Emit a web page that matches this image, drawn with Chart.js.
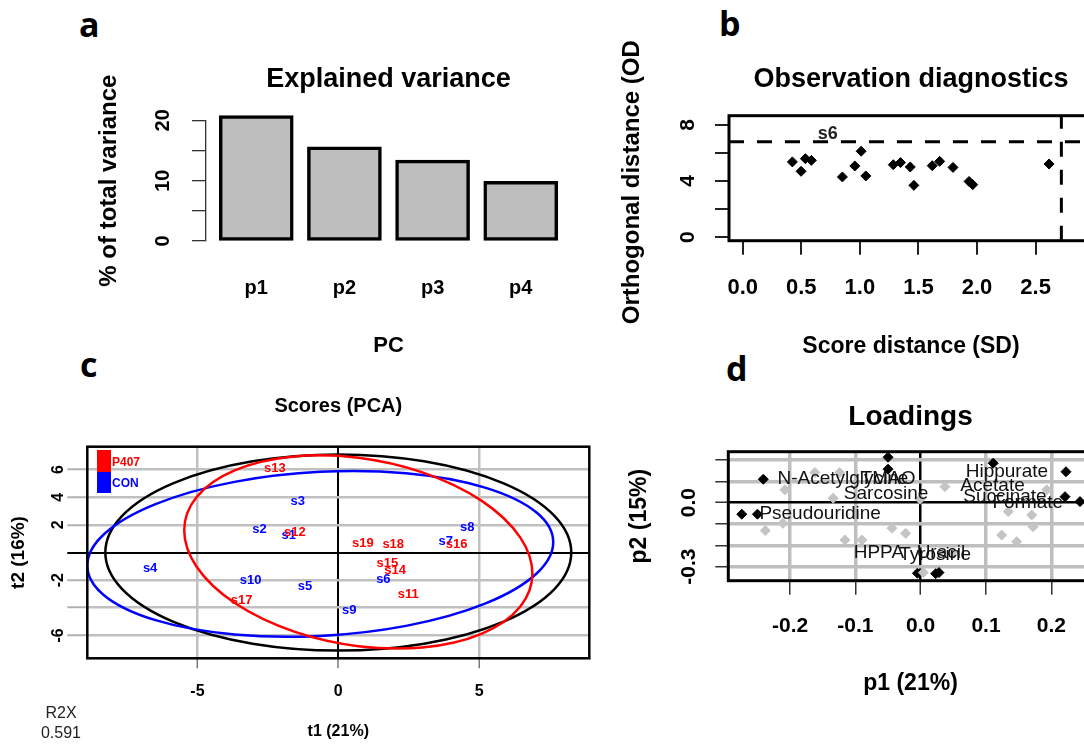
<!DOCTYPE html>
<html>
<head>
<meta charset="utf-8">
<title>PCA summary</title>
<script src="https://cdn.jsdelivr.net/npm/chart.js@4.4.1/dist/chart.umd.min.js"></script>
<style>
  html, body { margin: 0; padding: 0; background: #fff; }
  body { position: relative; width: 1084px; height: 744px; overflow: hidden; font-family: 'Liberation Sans', Arial, sans-serif; }
  canvas { position: absolute; }
  .letter { position: absolute; font-family: 'Open Sans', sans-serif; font-weight: 700; font-size: 34px; line-height: 34px; color: #000; }
  .key { position: absolute; width: 14px; }
  .keytxt { position: absolute; font-size: 12px; line-height: 12px; font-weight: bold; }
  .r2x { position: absolute; width: 60px; text-align: center; font-size: 16px; line-height: 16px; color: #222; }
</style>
</head>
<body>
<div class="letter" style="left:79px;top:7px">a</div>
<div class="letter" style="left:719px;top:6px">b</div>
<div class="letter" style="left:80px;top:347px">c</div>
<div class="letter" style="left:726px;top:351px">d</div>

<canvas id="pa" width="545" height="330" style="left:40px;top:40px"></canvas>
<canvas id="pb" width="530" height="330" style="left:590px;top:40px"></canvas>
<canvas id="pc" width="610" height="364" style="left:0px;top:380px"></canvas>
<canvas id="pd" width="530" height="364" style="left:590px;top:380px"></canvas>

<div class="key" style="left:97px;top:450px;height:22px;background:#ff0000"></div>
<div class="key" style="left:97px;top:472px;height:21px;background:#0000ff"></div>
<div class="keytxt" style="left:112px;top:456px;color:#ff0000">P407</div>
<div class="keytxt" style="left:112px;top:477px;color:#0000ff">CON</div>
<div class="r2x" style="left:31px;top:705px">R2X</div>
<div class="r2x" style="left:31px;top:725px">0.591</div>

<script>
'use strict';

Chart.defaults.font.family = "'Liberation Sans', Arial, sans-serif";
Chart.defaults.color = '#000';

// a: explained variance
const pcLabels = ['p1', 'p2', 'p3', 'p4'];
const explainedVar = [20.8, 15.6, 13.4, 9.9];
const varTicks = [0, 5, 10, 15, 20];

// b: observation diagnostics
const sdValues = [0.424, 0.498, 0.535, 0.586, 0.851, 0.957, 1.011, 1.051, 1.285, 1.347, 1.430, 1.461, 1.618, 1.681, 1.795, 1.932, 1.963, 2.615];
const odValues = [5.36, 4.69, 5.59, 5.47, 4.29, 5.07, 6.12, 4.36, 5.16, 5.31, 5.00, 3.69, 5.09, 5.40, 4.97, 3.97, 3.74, 5.21];
const outlierNames = ['s6'];
const outlierSd = [0.726];
const outlierOd = [7.35];
const sdCutoff = 2.72;
const odCutoff = 6.79;
const sdTicks = [0, 0.5, 1, 1.5, 2, 2.5];
const odTicks = [0, 2, 4, 6, 8];

// c: scores
const conNames = ['s1', 's2', 's3', 's4', 's5', 's6', 's7', 's8', 's9', 's10'];
const conT1 = [-1.76, -2.80, -1.44, -6.68, -1.18, 1.60, 3.81, 4.58, 0.39, -3.11];
const conT2 = [1.22, 1.66, 3.71, -1.17, -2.45, -1.94, 0.79, 1.80, -4.19, -2.01];
const p407Names = ['s11', 's12', 's13', 's14', 's15', 's16', 's17', 's18', 's19'];
const p407T1 = [2.48, -1.54, -2.25, 2.02, 1.74, 4.20, -3.43, 1.95, 0.87];
const p407T2 = [-3.05, 1.44, 6.08, -1.29, -0.80, 0.57, -3.46, 0.59, 0.67];
// ellipses: t1 = cx + a*cos(u), t2 = cy + c*cos(u) + d*sin(u); order: all, CON, P407
const ellCx = [0.00, -0.64, 0.71];
const ellCy = [0.00, -0.10, 0.04];
const ellA = [8.27, 8.27, 6.18];
const ellC = [0.00, 0.845, -1.565];
const ellD = [7.10, 5.94, 6.82];
const t1Ticks = [-5, 0, 5];
const t2Ticks = [-6, -4, -2, 0, 2, 4, 6];

// d: loadings
const blackP1 = [-0.050, -0.050, -0.241, -0.274, -0.250, 0.111, 0.2225, 0.221, 0.244, -0.005, 0.023, 0.028];
const blackP2 = [0.213, 0.157, 0.110, -0.054, -0.054, 0.185, 0.145, 0.028, 0.005, -0.331, -0.333, -0.328];
const grayP1 = [-0.162, -0.124, -0.208, -0.134, -0.211, -0.238, -0.116, -0.090, -0.044, -0.023, -0.001, 0.004, 0.037, 0.051, 0.124, 0.134, 0.147, 0.170, 0.172, 0.193];
const grayP2 = [0.141, 0.141, 0.060, 0.021, -0.097, -0.131, -0.175, -0.175, -0.120, -0.144, 0.016, -0.328, 0.075, -0.237, -0.152, -0.042, -0.183, -0.058, -0.113, 0.060];
const loadNames = ['N-Acetylglycine', 'TMAO', 'Sarcosine', 'Pseudouridine', 'Hippurate', 'Acetate', 'Succinate', 'Formate', 'HPPA', 'Tyrosine', 'Uracil'];
const loadLabelP1 = [-0.119, -0.050, -0.053, -0.154, 0.132, 0.110, 0.129, 0.164, -0.064, 0.022, 0.031];
const loadLabelP2 = [0.110, 0.110, 0.044, -0.054, 0.145, 0.078, 0.028, 0.000, -0.237, -0.245, -0.236];
const p1Ticks = [-0.2, -0.1, 0, 0.1, 0.2];
const p2Ticks = [-0.3, -0.2, -0.1, 0, 0.1, 0.2];

// helpers
const xy = (xs, ys) => xs.map((x, i) => ({ x, y: ys[i] }));
const fixTicks = arr => scale => { scale.ticks = arr.map(v => ({ value: v })); };
const fixWidth = w => scale => { scale.width = w; };
const fixHeight = h => scale => { scale.height = h; };
const bold = size => ({ size, weight: 'bold' });
const zeroOr = (zero, other) => c => (c.tick && c.tick.value === 0 ? zero : other);

const frame = w => ({
    id: 'frame',
    afterDatasetsDraw(chart) {
        const { left, top, width, height } = chart.chartArea;
        const ctx = chart.ctx;
        ctx.save();
        ctx.lineWidth = w;
        ctx.strokeStyle = '#000';
        ctx.strokeRect(left, top, width, height);
        ctx.restore();
    }
});

// draws the text of datasets that carry pointLabels at their points
const pointText = {
    id: 'pointText',
    afterDatasetsDraw(chart) {
        const ctx = chart.ctx;
        chart.data.datasets.forEach((ds, i) => {
            if (!ds.pointLabels) return;
            const meta = chart.getDatasetMeta(i);
            ctx.save();
            ctx.font = ds.labelFont;
            ctx.fillStyle = ds.labelColor;
            ctx.textAlign = 'center';
            ctx.textBaseline = 'middle';
            meta.data.forEach((pt, j) => ctx.fillText(ds.pointLabels[j], pt.x, pt.y));
            ctx.restore();
        });
    }
};

const ellColors = ['#000000', '#0000ff', '#ff0000'];
const ellipses = {
    id: 'ellipses',
    beforeDatasetsDraw(chart) {
        const xs = chart.scales.x, ys = chart.scales.y, ctx = chart.ctx, a = chart.chartArea;
        const kx = xs.getPixelForValue(1) - xs.getPixelForValue(0);
        const ky = ys.getPixelForValue(1) - ys.getPixelForValue(0);
        ctx.save();
        ctx.beginPath();
        ctx.rect(a.left, a.top, a.width, a.height);
        ctx.clip();
        ellCx.forEach((cx, i) => {
            ctx.save();
            ctx.beginPath();
            ctx.transform(kx * ellA[i], ky * ellC[i], 0, ky * ellD[i], xs.getPixelForValue(cx), ys.getPixelForValue(ellCy[i]));
            ctx.arc(0, 0, 1, 0, Math.PI * 2);
            ctx.restore();
            ctx.lineWidth = 2.5;
            ctx.strokeStyle = ellColors[i];
            ctx.stroke();
        });
        ctx.restore();
    }
};

const base = {
    responsive: false,
    animation: false,
    events: [],
};
const noLegend = { legend: { display: false }, tooltip: { enabled: false } };
// the title sits over the plot region only, as in R
const titleOf = (text, size, top, bottom) => ({ display: true, fullSize: false, text, font: bold(size), padding: { top, bottom } });

// ---- a ----
const barX = pcLabels.map((p, i) => 0.7 + 1.2 * i);
new Chart(document.getElementById('pa'), {
    type: 'bar',
    data: {
        datasets: [{
            data: xy(barX, explainedVar),
            backgroundColor: '#bebebe',
            borderColor: '#000',
            borderWidth: 3.5,
            borderSkipped: false,
            barThickness: 74,
            clip: false,
        }]
    },
    options: {
        ...base,
        layout: { padding: { right: 14 } },
        plugins: { ...noLegend, title: titleOf('Explained variance', 27, 23.8, 24.1) },
        scales: {
            x: {
                type: 'linear', min: 0.016, max: 4.984, offset: false,
                afterBuildTicks: fixTicks(barX), afterFit: fixHeight(129),
                grid: { display: false, drawTicks: false, offset: false },
                border: { display: false },
                ticks: { callback: (v, i) => pcLabels[i], font: bold(20), padding: 35, autoSkip: false, maxRotation: 0 },
                title: { display: true, text: 'PC', font: bold(22), padding: { top: 0, bottom: 11.1 } },
            },
            y: {
                min: 0, max: 20,
                afterBuildTicks: fixTicks(varTicks), afterFit: fixWidth(166),
                grid: { drawOnChartArea: false, tickLength: 14, color: '#333', lineWidth: 1.3 },
                border: { display: true, color: '#333', width: 1.3 },
                ticks: { callback: v => (v % 10 === 0 ? String(v) : ''), font: bold(20), padding: 16.9, minRotation: 90, maxRotation: 90, crossAlign: 'center', autoSkip: false },
                title: { display: true, text: '% of total variance', font: bold(24), padding: { top: 54.6, bottom: 0 } },
            }
        }
    }
});

// ---- b ----
const sdMin = -0.117, sdMax = 2.99, odMin = -0.25, odMax = 8.65;
new Chart(document.getElementById('pb'), {
    type: 'scatter',
    data: {
        datasets: [
            { data: xy(sdValues, odValues), pointStyle: 'rectRot', pointRadius: 5, backgroundColor: '#000', borderColor: '#000', borderWidth: 1 },
            { data: xy(outlierSd, outlierOd), pointRadius: 0, pointLabels: outlierNames, labelFont: "bold 18px 'Liberation Sans'", labelColor: '#222' },
            { data: [{ x: sdMin, y: odCutoff }, { x: sdMax, y: odCutoff }], showLine: true, pointRadius: 0, borderColor: '#000', borderWidth: 3, borderDash: [15, 13] },
            { data: [{ x: sdCutoff, y: odMin }, { x: sdCutoff, y: odMax }], showLine: true, pointRadius: 0, borderColor: '#000', borderWidth: 3, borderDash: [15, 13] },
        ]
    },
    options: {
        ...base,
        layout: { padding: { right: 27 } },
        plugins: { ...noLegend, title: titleOf('Observation diagnostics', 27, 23.6, 19.7) },
        scales: {
            x: {
                type: 'linear', min: sdMin, max: sdMax,
                afterBuildTicks: fixTicks(sdTicks), afterFit: fixHeight(129.3),
                grid: { drawOnChartArea: false, tickLength: 14, color: '#222', lineWidth: 2 },
                border: { display: false },
                ticks: { callback: v => v.toFixed(1), font: bold(22), padding: 20.4, autoSkip: false, maxRotation: 0 },
                title: { display: true, text: 'Score distance (SD)', font: bold(23), padding: { top: 0, bottom: 9.2 } },
            },
            y: {
                min: odMin, max: odMax,
                afterBuildTicks: fixTicks(odTicks), afterFit: fixWidth(139),
                grid: { drawOnChartArea: false, tickLength: 14, color: '#222', lineWidth: 2 },
                border: { display: false },
                ticks: { callback: v => (v % 4 === 0 ? String(v) : ''), font: bold(21), padding: 21.2, minRotation: 90, maxRotation: 90, crossAlign: 'center', autoSkip: false },
                title: { display: true, text: 'Orthogonal distance (OD)', font: bold(24), padding: { top: 27.6, bottom: 0 } },
            }
        }
    },
    plugins: [frame(3), pointText]
});

// ---- c ----
new Chart(document.getElementById('pc'), {
    type: 'scatter',
    data: {
        datasets: [
            { data: xy(conT1, conT2), pointRadius: 0, pointLabels: conNames, labelFont: "bold 13px 'Liberation Sans'", labelColor: '#0000ff' },
            { data: xy(p407T1, p407T2), pointRadius: 0, pointLabels: p407Names, labelFont: "bold 13px 'Liberation Sans'", labelColor: '#ff0000' },
        ]
    },
    options: {
        ...base,
        layout: { padding: { right: 20.7 } },
        plugins: { ...noLegend, title: titleOf('Scores (PCA)', 20, 14, 28.7) },
        scales: {
            x: {
                type: 'linear', min: -8.91, max: 8.91,
                afterBuildTicks: fixTicks(t1Ticks), afterFit: fixHeight(85.7),
                grid: { color: zeroOr('#000', '#c0c0c0'), lineWidth: zeroOr(2, 2.5), tickLength: 10, tickColor: '#666', tickWidth: 1.3 },
                border: { display: false },
                ticks: { callback: v => String(v), font: bold(16), padding: 13.3, autoSkip: false, maxRotation: 0 },
                title: { display: true, text: 't1 (21%)', font: bold(16), padding: { top: 0, bottom: 2.4 } },
            },
            y: {
                min: -7.66, max: 7.66,
                afterBuildTicks: fixTicks(t2Ticks), afterFit: fixWidth(87.3),
                grid: { color: zeroOr('#000', '#c0c0c0'), lineWidth: zeroOr(2, 2.5), tickLength: 20, tickColor: zeroOr('#000', '#b0b0b0'), tickWidth: 2 },
                border: { display: false },
                ticks: { callback: v => (v === 0 || v === -4 ? '' : String(v)), font: bold(16), padding: 1.9, minRotation: 90, maxRotation: 90, crossAlign: 'center', autoSkip: false },
                title: { display: true, text: 't2 (16%)', font: bold(19), padding: { top: 6.9, bottom: 0 } },
            }
        }
    },
    plugins: [ellipses, frame(2.5), pointText]
});

// ---- d ----
new Chart(document.getElementById('pd'), {
    type: 'scatter',
    data: {
        datasets: [
            { data: xy(grayP1, grayP2), pointStyle: 'rectRot', pointRadius: 5, backgroundColor: '#c4c4c4', borderColor: '#c4c4c4', borderWidth: 1 },
            { data: xy(blackP1, blackP2), pointStyle: 'rectRot', pointRadius: 5, backgroundColor: '#000', borderColor: '#000', borderWidth: 1 },
            { data: xy(loadLabelP1, loadLabelP2), pointRadius: 0, pointLabels: loadNames, labelFont: "19px 'Liberation Sans'", labelColor: '#111' },
        ]
    },
    options: {
        ...base,
        layout: { padding: { right: 27.3 } },
        plugins: { ...noLegend, title: titleOf('Loadings', 28, 20.2, 17.9) },
        scales: {
            x: {
                type: 'linear', min: -0.2946, max: 0.2634,
                afterBuildTicks: fixTicks(p1Ticks), afterFit: fixHeight(163.3),
                grid: { color: zeroOr('#000', '#bebebe'), lineWidth: zeroOr(2.5, 3.5), tickLength: 14, tickColor: '#333', tickWidth: 1.5 },
                border: { display: false },
                ticks: { callback: v => v.toFixed(1), font: bold(21), padding: 18.7, autoSkip: false, maxRotation: 0 },
                title: { display: true, text: 'p1 (21%)', font: bold(23), padding: { top: 0, bottom: 46.5 } },
            },
            y: {
                min: -0.366, max: 0.239,
                afterBuildTicks: fixTicks(p2Ticks), afterFit: fixWidth(138.3),
                grid: { color: zeroOr('#000', '#bebebe'), lineWidth: zeroOr(2.5, 3.5), tickLength: 13, tickColor: '#333', tickWidth: 1.5 },
                border: { display: false },
                ticks: { callback: v => (v === 0 || v === -0.3 ? v.toFixed(1) : ''), font: bold(21), padding: 8, minRotation: 90, maxRotation: 90, crossAlign: 'center', autoSkip: false },
                title: { display: true, text: 'p2 (15%)', font: bold(23), padding: { top: 36.2, bottom: 0 } },
            }
        }
    },
    plugins: [frame(3), pointText]
});
</script>
</body>
</html>
